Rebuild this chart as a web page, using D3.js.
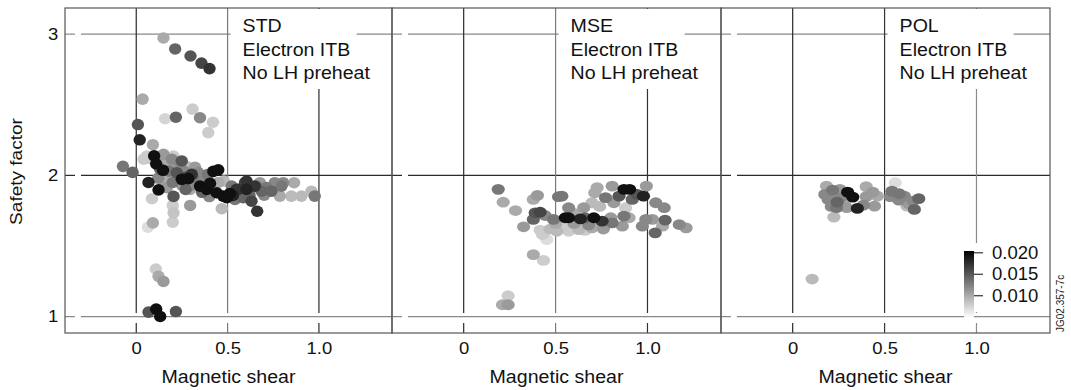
<!DOCTYPE html>
<html><head><meta charset="utf-8">
<script src="https://cdn.jsdelivr.net/npm/d3@7"></script>
<style>body{margin:0;background:#fff}svg{display:block}</style>
</head><body>
<svg id="c" width="1071" height="390"></svg>
<script>
// [magnetic shear, safety factor, colour value]
const stdPoints = [
[0.149,2.973,0.0099],[0.213,2.895,0.0141],[0.297,2.845,0.0151],[0.357,2.795,0.0161],[0.401,2.756,0.0172],
[0.035,2.540,0.0099],[0.009,2.360,0.0151],[0.019,2.252,0.0182],[0.308,2.469,0.0078],[0.217,2.412,0.0141],
[0.158,2.401,0.0073],[0.349,2.408,0.0120],[0.420,2.376,0.0078],[0.394,2.303,0.0078],[0.091,2.217,0.0099],
[-0.073,2.064,0.0130],[-0.020,2.021,0.0141],[0.098,2.138,0.0193],[0.109,2.082,0.0193],[0.147,2.036,0.0193],
[0.067,1.950,0.0182],[0.122,1.897,0.0193],[0.204,1.851,0.0151],[0.086,1.835,0.0078],[0.200,1.787,0.0078],
[0.204,1.735,0.0083],[0.295,1.787,0.0109],[0.200,1.668,0.0078],[0.091,1.664,0.0099],[0.064,1.633,0.0068],
[0.468,1.764,0.0089],[0.107,1.337,0.0078],[0.122,1.285,0.0099],[0.149,1.249,0.0109],[0.067,1.032,0.0151],
[0.109,1.053,0.0193],[0.131,1.001,0.0193],[0.217,1.036,0.0151],[0.249,2.102,0.0151],[0.222,2.019,0.0151],
[0.249,1.972,0.0193],[0.285,1.977,0.0193],[0.304,2.007,0.0172],[0.349,1.924,0.0193],[0.386,1.901,0.0193],
[0.422,2.028,0.0193],[0.449,2.039,0.0193],[0.440,1.877,0.0193],[0.476,1.853,0.0193],[0.495,1.842,0.0193],
[0.549,1.901,0.0172],[0.340,2.019,0.0120],[0.149,2.149,0.0109],[0.195,2.114,0.0120],[0.076,2.119,0.0078],
[0.040,2.114,0.0078],[0.176,1.984,0.0089],[0.167,1.913,0.0109],[0.295,1.901,0.0099],[0.367,1.972,0.0120],
[0.522,1.924,0.0130],[0.558,1.901,0.0172],[0.595,1.948,0.0161],[0.604,1.901,0.0182],[0.631,1.817,0.0161],
[0.662,1.746,0.0172],[0.649,1.924,0.0172],[0.686,1.888,0.0141],[0.713,1.913,0.0130],[0.758,1.948,0.0120],
[0.795,1.924,0.0130],[0.804,1.948,0.0120],[0.864,1.948,0.0099],[0.740,1.888,0.0141],[0.786,1.853,0.0099],
[0.849,1.853,0.0089],[0.904,1.853,0.0089],[0.959,1.888,0.0089],[0.977,1.853,0.0130],[0.677,1.948,0.0109],
[0.585,1.842,0.0141],[0.540,1.830,0.0130],[0.058,2.137,0.0078],[0.204,2.137,0.0078],[0.240,2.092,0.0120],
[0.273,1.986,0.0161],[0.404,1.943,0.0193],[0.513,1.872,0.0193],[0.529,1.858,0.0182],[0.131,2.043,0.0141],
[0.322,2.057,0.0109],[0.393,2.007,0.0130],[0.604,1.960,0.0172],
[0.100,2.120,0.0083],[0.130,2.100,0.0089],[0.170,2.080,0.0099],[0.200,2.060,0.0083],[0.230,2.050,0.0109],
[0.260,2.030,0.0120],[0.280,2.060,0.0089],[0.310,1.990,0.0130],[0.330,1.960,0.0109],[0.350,1.980,0.0099],
[0.300,1.930,0.0120],[0.250,1.930,0.0109],[0.200,1.950,0.0130],[0.150,1.960,0.0099],[0.120,1.980,0.0120],
[0.450,1.950,0.0099],[0.480,1.960,0.0089],[0.400,1.850,0.0120],[0.580,1.880,0.0130],[0.620,1.860,0.0141],
[0.700,1.860,0.0120],[0.660,1.920,0.0130],[0.180,2.030,0.0130],[0.270,1.900,0.0141],[0.360,1.880,0.0141]
];
const msePoints = [
[0.188,1.901,0.0130],[0.215,1.810,0.0099],[0.282,1.751,0.0099],[0.326,1.636,0.0109],[0.379,1.830,0.0099],
[0.401,1.858,0.0109],[0.379,1.439,0.0099],[0.434,1.398,0.0078],[0.416,1.612,0.0078],[0.429,1.581,0.0078],
[0.452,1.545,0.0068],[0.389,1.735,0.0151],[0.416,1.739,0.0161],[0.379,1.688,0.0141],[0.443,1.716,0.0120],
[0.489,1.688,0.0130],[0.516,1.849,0.0130],[0.507,1.604,0.0089],[0.553,1.700,0.0193],[0.242,1.148,0.0078],
[0.242,1.084,0.0109],[0.211,1.084,0.0099],[0.571,1.700,0.0193],[0.635,1.692,0.0182],[0.708,1.700,0.0193],
[0.753,1.676,0.0172],[0.872,1.901,0.0193],[0.903,1.901,0.0193],[0.978,1.853,0.0182],[0.945,1.865,0.0151],
[0.808,1.924,0.0109],[0.772,1.842,0.0130],[0.713,1.877,0.0099],[0.726,1.913,0.0099],[0.534,1.853,0.0130],
[0.571,1.771,0.0120],[0.653,1.771,0.0109],[0.698,1.806,0.0089],[0.817,1.806,0.0109],[0.881,1.771,0.0078],
[0.872,1.711,0.0130],[0.808,1.664,0.0130],[0.863,1.640,0.0109],[0.626,1.616,0.0089],[0.571,1.604,0.0078],
[0.698,1.628,0.0099],[0.991,1.688,0.0120],[0.972,1.640,0.0120],[1.045,1.806,0.0120],[1.091,1.771,0.0120],
[1.096,1.683,0.0141],[1.042,1.593,0.0141],[1.027,1.688,0.0109],[1.082,1.640,0.0099],[1.173,1.652,0.0120],
[1.210,1.628,0.0109],[0.994,1.924,0.0109],[0.845,1.853,0.0151],[0.917,1.830,0.0141],[0.660,1.700,0.0141],
[0.600,1.660,0.0109],[0.760,1.620,0.0109],[0.680,1.650,0.0120],[0.800,1.700,0.0109],[0.740,1.780,0.0089],
[0.900,1.700,0.0099],
[0.550,1.640,0.0078],[0.620,1.640,0.0083],[0.660,1.610,0.0078],[0.720,1.660,0.0099],[0.780,1.660,0.0109],
[0.600,1.730,0.0099],[0.500,1.660,0.0099],[0.470,1.620,0.0089]
];
const polPoints = [
[0.184,1.924,0.0099],[0.217,1.896,0.0130],[0.257,1.901,0.0109],[0.175,1.865,0.0120],[0.193,1.830,0.0120],
[0.242,1.811,0.0141],[0.239,1.771,0.0130],[0.224,1.704,0.0089],[0.294,1.771,0.0109],[0.299,1.881,0.0193],
[0.327,1.846,0.0193],[0.352,1.766,0.0182],[0.385,1.789,0.0120],[0.445,1.782,0.0109],[0.400,1.920,0.0099],
[0.436,1.881,0.0109],[0.461,1.853,0.0099],[0.558,1.948,0.0068],[0.540,1.888,0.0130],[0.531,1.849,0.0120],
[0.577,1.825,0.0120],[0.608,1.853,0.0120],[0.622,1.782,0.0089],[0.662,1.759,0.0141],[0.686,1.835,0.0141],
[0.655,1.817,0.0120],[0.106,1.266,0.0089],
[0.200,1.850,0.0109],[0.260,1.840,0.0120],[0.280,1.800,0.0099],[0.400,1.850,0.0109],[0.580,1.870,0.0130],
[0.630,1.800,0.0109],[0.210,1.780,0.0120]
];
const panelNames = ["STD", "MSE", "POL"];
const panelLines = ["Electron ITB", "No LH preheat"];
const xTicks = [0, 0.5, 1.0];
const xTickLabels = ["0", "0.5", "1.0"];
const yTicks = [1, 2, 3];
const yTickLabels = ["1", "2", "3"];
const cbTicks = [0.010, 0.015, 0.020];
const cbTickLabels = ["0.010", "0.015", "0.020"];
const xLabel = "Magnetic shear";
const yLabel = "Safety factor";
const stamp = "JG02.357-7c";

const FONT = "'Liberation Sans', Arial, Helvetica, sans-serif";
const SX = 1.12;
const svg = d3.select("#c");
const yTop = 8, yBot = 333;
const lefts = [65, 392, 721], rights = [392, 721, 1050];
const y = d3.scaleLinear().domain([0.884, 3.185]).range([yBot, yTop]);
const color = d3.scaleLinear().domain([0.0047, 0.0203]).range(["#ffffff", "#000000"]).clamp(true);
const vCol = [["#2a2a2a","#7a7a7a","#2a2a2a"],["#2a2a2a","#7a7a7a","#333"],["#2a2a2a","#333","#8a8a8a"]];
const hCol = ["#888", "#2a2a2a", "#888"];
const allPoints = [stdPoints, msePoints, polPoints];

function txt(g, x0, y0, s, size, anchor, extra) {
  return g.append("text")
    .attr("transform", `translate(${x0},${y0})${extra||""} scale(${SX},1)`)
    .attr("text-anchor", anchor).attr("font-family", FONT).attr("font-size", size)
    .attr("fill", "#111").text(s);
}

allPoints.forEach((pts, i) => {
  const x = d3.scaleLinear().domain([-0.39, 1.40]).range([lefts[i], rights[i]]);
  const g = svg.append("g");
  yTicks.forEach((t, j) => {
    g.append("line").attr("x1", lefts[i]).attr("x2", lefts[i] + 10).attr("y1", y(t)).attr("y2", y(t))
      .attr("stroke", hCol[j]).attr("stroke-width", 1.2);
    g.append("line").attr("x1", lefts[i] + 16).attr("x2", rights[i]).attr("y1", y(t)).attr("y2", y(t))
      .attr("stroke", hCol[j]).attr("stroke-width", 1.2);
  });
  xTicks.forEach((t, j) => {
    g.append("line").attr("x1", x(t)).attr("x2", x(t)).attr("y1", yTop).attr("y2", yBot - 20)
      .attr("stroke", vCol[i][j]).attr("stroke-width", 1.2);
    g.append("line").attr("x1", x(t)).attr("x2", x(t)).attr("y1", yBot - 10).attr("y2", yBot)
      .attr("stroke", vCol[i][j]).attr("stroke-width", 1.2);
  });
  // label box
  g.append("rect").attr("x", x(0.5) + 3).attr("y", yTop + 1).attr("width", 126).attr("height", 89 - yTop - 1)
    .attr("fill", "#fff");
  [panelNames[i], ...panelLines].forEach((s, k) => {
    txt(g, x(0.5) + 15, 32 + k * 23.6, s, 17.5, "start");
  });
  // points
  const rx = i === 0 ? 6.2 : 6.6, ry = i === 0 ? 5.8 : 5.4;
  g.append("g").selectAll("ellipse")
    .data(pts.slice().sort((a, b) => a[2] - b[2]))
    .join("ellipse")
    .attr("cx", d => x(d[0])).attr("cy", d => y(d[1]))
    .attr("rx", rx).attr("ry", ry)
    .attr("fill", d => color(d[2]));
  // border
  g.append("rect").attr("x", lefts[i]).attr("y", yTop).attr("width", rights[i] - lefts[i]).attr("height", yBot - yTop)
    .attr("fill", "none").attr("stroke", "#555").attr("stroke-width", 1.2);
  // x axis
  const ax = g.append("g").attr("transform", `translate(0,${yBot})`)
    .call(d3.axisBottom(x).tickValues(xTicks).tickFormat((d, k) => xTickLabels[k]).tickSize(0).tickPadding(9));
  ax.select(".domain").remove();
  ax.selectAll("text").attr("font-family", FONT).attr("font-size", 16.5).attr("fill", "#111")
    .attr("transform", `scale(${SX},1)`);
  txt(g, (lefts[i] + rights[i]) / 2, 383, xLabel, 17.5, "middle");
});

// y axis
const ay = svg.append("g").attr("transform", `translate(${lefts[0]},0)`)
  .call(d3.axisLeft(y).tickValues(yTicks).tickFormat((d, k) => yTickLabels[k]).tickSize(0).tickPadding(6));
ay.select(".domain").remove();
ay.selectAll("text").attr("font-family", FONT).attr("font-size", 16.5).attr("fill", "#111")
  .attr("transform", `scale(${SX},1)`);
txt(svg, 22, 171.5, yLabel, 17, "middle", " rotate(-90)");

// colour bar
const cb = d3.scaleLinear().domain([0.0047, 0.0203]).range([318, 251]);
const defs = svg.append("defs");
const grad = defs.append("linearGradient").attr("id", "cbg").attr("x1", 0).attr("x2", 0).attr("y1", 1).attr("y2", 0);
d3.range(0, 1.0001, 0.1).forEach(f => {
  const v = cb.domain()[0] + f * (cb.domain()[1] - cb.domain()[0]);
  grad.append("stop").attr("offset", f).attr("stop-color", color(v));
});
svg.append("rect").attr("x", 958).attr("y", 243).attr("width", 88).attr("height", 69).attr("fill", "#fff");
svg.append("rect").attr("x", 964).attr("y", cb(0.0203)).attr("width", 10).attr("height", cb(0.0047) - cb(0.0203))
  .attr("fill", "url(#cbg)");
const acb = svg.append("g").attr("transform", "translate(974,0)")
  .call(d3.axisRight(cb).tickValues(cbTicks).tickFormat((d, k) => cbTickLabels[k]).tickSize(9).tickPadding(9));
acb.select(".domain").remove();
acb.selectAll("line").attr("stroke", "#333").attr("stroke-width", 1.2);
acb.selectAll("text").attr("font-family", FONT).attr("font-size", 18.5).attr("fill", "#111");

svg.append("text").attr("transform", "translate(1064,332) rotate(-90)")
  .attr("font-family", FONT).attr("font-size", 10).attr("fill", "#222").text(stamp);
</script>
</body></html>
